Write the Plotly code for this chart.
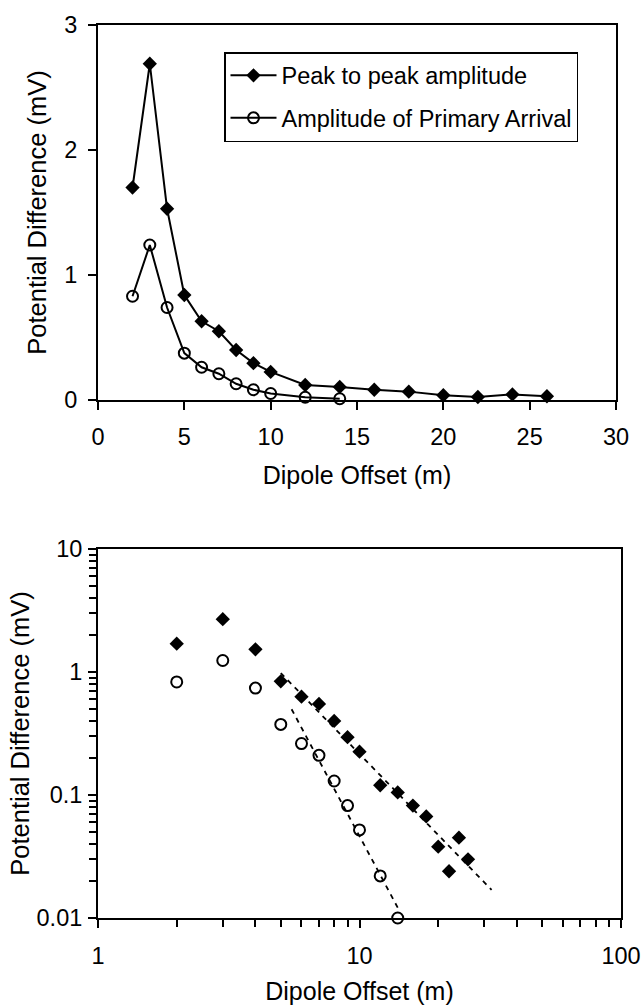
import numpy as np
import plotly.graph_objects as go

# ---------------- data ----------------
offset_peak = [2, 3, 4, 5, 6, 7, 8, 9, 10, 12, 14, 16, 18, 20, 22, 24, 26]
peak_to_peak = [1.70, 2.69, 1.53, 0.84, 0.63, 0.55, 0.40, 0.295, 0.225, 0.12,
                0.105, 0.082, 0.067, 0.038, 0.024, 0.045, 0.030]

offset_primary = [2, 3, 4, 5, 6, 7, 8, 9, 10, 12, 14]
primary_arrival = [0.83, 1.24, 0.74, 0.375, 0.262, 0.21, 0.13, 0.082, 0.052, 0.022, 0.010]

series_names = ["Peak to peak amplitude", "Amplitude of Primary Arrival"]

# power-law trend lines: fit data with offset >= fit_from, drawn over draw_range
peak_fit_from = 5
peak_draw_range = [5, 32]
primary_fit_from = 6
primary_draw_range = [5.5, 14]

x_title = "Dipole Offset (m)"
y_title = "Potential Difference (mV)"


def power_fit(xs, ys, xmin, draw):
    xs = np.asarray(xs, float)
    ys = np.asarray(ys, float)
    m = xs >= xmin
    b, a = np.polyfit(np.log10(xs[m]), np.log10(ys[m]), 1)
    xd = np.asarray(draw, float)
    return xd, 10 ** (a + b * np.log10(xd))


FONT = "Liberation Sans, Arial, Helvetica, sans-serif"
BLACK = "black"

fig = go.Figure()

# ---- top (linear) chart ----
fig.add_trace(go.Scatter(
    x=offset_peak, y=peak_to_peak, mode="lines+markers", name=series_names[0],
    line=dict(color=BLACK, width=2),
    marker=dict(symbol="diamond", size=11, color=BLACK),
    xaxis="x", yaxis="y", cliponaxis=False, legendgroup="a"))
fig.add_trace(go.Scatter(
    x=offset_primary, y=primary_arrival, mode="lines+markers", name=series_names[1],
    line=dict(color=BLACK, width=2),
    marker=dict(symbol="circle-open", size=11, color=BLACK, line=dict(width=2)),
    xaxis="x", yaxis="y", cliponaxis=False, legendgroup="b"))

# ---- bottom (log-log) chart ----
fig.add_trace(go.Scatter(
    x=offset_peak, y=peak_to_peak, mode="markers", showlegend=False,
    marker=dict(symbol="diamond", size=11, color=BLACK),
    xaxis="x2", yaxis="y2", cliponaxis=False))
fig.add_trace(go.Scatter(
    x=offset_primary, y=primary_arrival, mode="markers", showlegend=False,
    marker=dict(symbol="circle-open", size=11, color=BLACK, line=dict(width=2)),
    xaxis="x2", yaxis="y2", cliponaxis=False))

tx, ty = power_fit(offset_peak, peak_to_peak, peak_fit_from, peak_draw_range)
fig.add_trace(go.Scatter(x=tx, y=ty, mode="lines", showlegend=False,
                         line=dict(color=BLACK, width=1.8, dash="5px,5px"),
                         xaxis="x2", yaxis="y2"))
tx, ty = power_fit(offset_primary, primary_arrival, primary_fit_from, primary_draw_range)
fig.add_trace(go.Scatter(x=tx, y=ty, mode="lines", showlegend=False,
                         line=dict(color=BLACK, width=1.8, dash="5px,5px"),
                         xaxis="x2", yaxis="y2"))

W, H = 644, 1005
ML, MR, MT, MB = 98, 23, 25, 87
PW, PH = W - ML - MR, H - MT - MB

def px_x(p):
    return (p - ML) / PW

def px_y(p):
    return (H - MB - p) / PH

tick_font = dict(family=FONT, size=23.5, color=BLACK)
title_font = dict(family=FONT, size=25, color=BLACK)
ytitle_font = dict(family=FONT, size=25.5, color=BLACK)

axis_common = dict(showline=True, linecolor=BLACK, linewidth=2, mirror=True,
                   showgrid=False, zeroline=False, ticks="outside", automargin=False,
                   tickcolor=BLACK, tickwidth=1.5, ticklen=8, tickfont=tick_font)

fig.update_layout(
    width=W, height=H,
    margin=dict(l=ML, r=MR, t=MT, b=MB),
    paper_bgcolor="white", plot_bgcolor="white",
    font=dict(family=FONT, color=BLACK),
    showlegend=True,
    legend=dict(x=px_x(224), y=px_y(52), xanchor="left", yanchor="top",
                bgcolor="white", bordercolor=BLACK, borderwidth=1.5,
                font=dict(family=FONT, size=23.5, color=BLACK),
                tracegroupgap=9, itemwidth=46),
    xaxis=dict(domain=[0, px_x(616)], range=[0, 30], dtick=5, anchor="y",
               ticklabelstandoff=7,
               title=dict(text=x_title, font=title_font, standoff=17),
               **axis_common),
    yaxis=dict(domain=[px_y(400), 1], range=[0, 3], dtick=1, anchor="x",
               ticklabelstandoff=6,
               title=dict(text=y_title, font=ytitle_font, standoff=10),
               **axis_common),
    xaxis2=dict(domain=[0, 1], type="log", range=[0, 2], dtick=1, anchor="y2",
                ticklabelstandoff=8,
                title=dict(text=x_title, font=title_font, standoff=16),
                minor=dict(ticks="outside", ticklen=7, tickcolor=BLACK, tickwidth=1.5,
                           dtick="D1", showgrid=False),
                **axis_common),
    yaxis2=dict(domain=[0, px_y(549)], type="log", range=[-2, 1], dtick=1, anchor="x2",
                ticklabelstandoff=1,
                title=dict(text=y_title, font=ytitle_font, standoff=0),
                minor=dict(ticks="outside", ticklen=7, tickcolor=BLACK, tickwidth=1.5,
                           dtick="D1", showgrid=False),
                **axis_common),
)

fig.write_html("out.html", config={"displayModeBar": False},
               post_script="document.body.style.margin='0';")
